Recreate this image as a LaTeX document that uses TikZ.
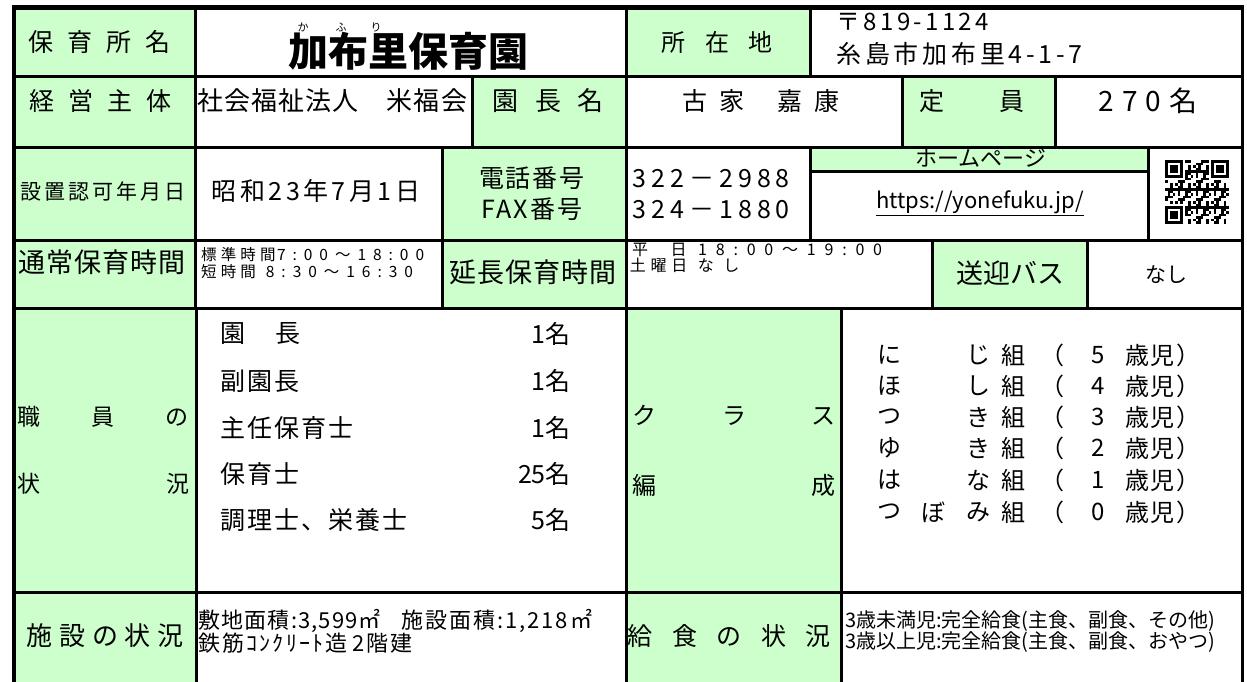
\documentclass[tikz,border=0pt]{standalone}
\usepackage{fontspec}
\setmainfont{Noto Sans CJK JP}
\definecolor{hdrgreen}{RGB}{204,255,204}
\newcommand\fz[2]{\fontsize{#1}{#2}\selectfont}
\newcommand\tight{\lineskiplimit=-20pt\relax}
\newcommand\spc[2]{\kern-\dimexpr #1\fontdimen6\font/200\relax
  {\addfontfeatures{LetterSpace=#1}#2}\kern-\dimexpr #1\fontdimen6\font/200\relax}

\begin{document}
\begin{tikzpicture}
    [x=1pt,y=-1pt,
     hdr/.style={draw,fill=hdrgreen,line width=3pt},
     val/.style={draw,fill=white,line width=3pt},
     txt/.style={inner sep=0pt}]
    \useasboundingbox (0,0) rectangle (1247,682);
    \clip (0,0) rectangle (1247,682);
    \fill[white] (0,0) rectangle (1247,682);

    % cells
    \foreach \xa/\ya/\xb/\yb in {195/7/626/77, 810/7/1242/77,
        195/77/472/147, 626/77/902/147, 1055/77/1242/147,
        195/147/442/240, 626/147/810/240, 810/171/1148/240, 1148/147/1242/240,
        195/240/442/308, 626/240/932/308, 1087/240/1242/308,
        196/308/626/592, 841/308/1242/592,
        196/592/626/700, 841/592/1242/700}
      \draw[val] (\xa,\ya) rectangle (\xb,\yb);
    \foreach \xa/\ya/\xb/\yb in {14/7/195/77, 626/7/810/77,
        14/77/195/147, 472/77/626/147, 902/77/1055/147,
        14/147/195/240, 442/147/626/240, 810/147/1148/171,
        14/240/195/308, 442/240/626/308, 932/240/1087/308,
        14/308/196/592, 626/308/841/592,
        14/592/196/700, 626/592/841/700}
      \draw[hdr] (\xa,\ya) rectangle (\xb,\yb);
    \draw[line width=4.5pt] (14,700) -- (14,7.5) -- (1242,7.5);
    \draw[line width=3pt] (1242,7.5) -- (1242,700);

    % row 1
    \node[txt,font=\fz{25}{30}] (namelbl) at (99,42) {\spc{56}{保育所名}};
    \node[txt,font=\fz{40}{44}\bfseries] (name) at (408,51) {加布里保育園};
    \foreach \r/\x in {か/303, ふ/341, り/376}
      \node[txt,font=\fz{11}{12}] (ruby\x) at (\x,27) {\r};
    \node[txt,font=\fz{24}{30}] (addrlbl) at (717,42) {\spc{83}{所在地}};
    \node[txt,anchor=west,font=\fz{24}{30}] (zip) at (838,22) {\spc{14}{〒819-1124}};
    \node[txt,anchor=west,font=\fz{25}{30}] (addr) at (838,54) {\spc{15}{糸島市加布里4-1-7}};

    % row 2
    \node[txt,font=\fz{25}{30}] (ownerlbl) at (100,101) {\spc{56}{経営主体}};
    \node[txt,anchor=west,font=\fz{26}{30}] (owner) at (198,101) {\spc{4}{社会福祉法人　米福会}};
    \node[txt,font=\fz{26}{30}] (headlbl) at (548,101) {\spc{62}{園長名}};
    \node[txt,anchor=west,font=\fz{25}{30}] (head) at (682,101) {古\hspace{12pt}家\hspace{33pt}嘉\hspace{12pt}康};
    \node[txt,anchor=west,font=\fz{25}{30}] (caplbl) at (919,101) {定\hspace{55pt}員};
    \node[txt,font=\fz{28}{30}] (cap) at (1148,101) {\spc{28}{270名}};

    % row 3
    \node[txt,font=\fz{21}{25}] (datelbl) at (103,191) {\spc{14}{設置認可年月日}};
    \node[txt,font=\fz{25}{30}] (date) at (316,191) {\spc{14}{昭和23年7月1日}};
    \node[txt,align=center,font=\fz{25}{31}] (tellbl) at (532,194) {\spc{8}{電話番号}\\\spc{8}{FAX番号}};
    \node[txt,anchor=west,align=left,font=\fz{25}{31}] (tel) at (635,194)
      {\spc{20}{322－2988}\\\spc{20}{324－1880}};
    \node[txt,font=\fz{22}{24}] (weblbl) at (981,158) {ホームページ};
    \node[txt,font=\fz{22}{26}] (web) at (980,203) {\underline{https://yonefuku.jp/}};
    \begin{scope}[shift={(1165,160)},x=2.56pt,y=-2.56pt]
      \foreach \i in {0,...,24} {
        \foreach \j in {0,...,24} {
          \pgfmathtruncatemacro\qb{mod(\i*\i*7+\j*\j*3+\i*\j*5+\i+11*\j,7)<3}
          \pgfmathtruncatemacro\qf{(\i<8)*(\j<8)+(\i>16)*(\j<8)+(\i<8)*(\j>16)}
          \ifnum\qb=1 \ifnum\qf=0 \fill (\i,\j) rectangle +(1,1); \fi\fi
        }
      }
      \foreach \fx/\fy in {0/0, 18/0, 0/18} {
        \fill (\fx,\fy) rectangle +(7,7);
        \fill[white] (\fx+1,\fy+1) rectangle +(5,5);
        \fill (\fx+2,\fy+2) rectangle +(3,3);
      }
    \end{scope}

    % row 4
    \node[txt,font=\fz{27}{30}] (hourslbl) at (102,262) {\spc{4}{通常保育時間}};
    \node[txt,anchor=west,align=left,font=\fz{15.5}{16.5}\tight] (hours) at (203,263)
      {\spc{27}{標準時間}\hspace{.45em}\spc{45}{7:00～18:00}\\\spc{27}{短時間}\hspace{1em}\spc{45}{8:30～16:30}};
    \node[txt,font=\fz{27}{30}] (extlbl) at (533,272) {\spc{4}{延長保育時間}};
    \node[txt,anchor=west,align=left,font=\fz{16}{16.5}\tight] (ext) at (632,258)
      {平\hspace{1.4em}日\hspace{1em}\spc{55}{18:00～19:00}\\\spc{30}{土曜日}\hspace{1.1em}\spc{60}{なし}};
    \node[txt,font=\fz{27}{30}] (buslbl) at (1010,273) {送迎バス};
    \node[txt,font=\fz{21}{24}] (bus) at (1166,275) {なし};

    % row 5
    \node[txt,font=\fz{23}{28}] (stafflbl) at (103,417) {\hbox to 172pt{職\hfill 員\hfill の}};
    \node[txt,font=\fz{23}{28}] (stafflbl2) at (103,484) {\hbox to 172pt{状\hfill 況}};
    \foreach \n/\c/\y in {園\hspace{1.2em}長/1名/334, 副園長/1名/381, 主任保育士/1名/428,
                          保育士/25名/474, 調理士、栄養士/5名/520} {
      \node[txt,anchor=west,font=\fz{25}{30}] (staff\y) at (221,\y) {\spc{8}{\n}};
      \node[txt,anchor=east,font=\fz{25}{30}] (num\y) at (571,\y) {\c};
    }
    \node[txt,font=\fz{24}{28}] (classlbl) at (734,415) {\hbox to 203pt{ク\hfill ラ\hfill ス}};
    \node[txt,font=\fz{24}{28}] (classlbl2) at (734,485) {\hbox to 203pt{編\hfill 成}};
    \foreach \a/\c/\d/\y in {に/じ/5/355, ほ/し/4/386, つ/き/3/417, ゆ/き/2/448, は/な/1/480, つ/み/0/512} {
      \node[txt,anchor=west,font=\fz{24}{28}] (cla\y) at (877,\y) {\a};
      \node[txt,anchor=west,font=\fz{24}{28}] (clc\y) at (966,\y) {\c};
      \node[txt,anchor=west,font=\fz{24}{28}] (clk\y) at (1001,\y) {組};
      \node[txt,anchor=west,font=\fz{24}{28}] (clp\y) at (1040,\y) {（};
      \node[txt,anchor=west,font=\fz{24}{28}] (cld\y) at (1091,\y) {\d};
      \node[txt,anchor=west,font=\fz{24}{28}] (cly\y) at (1126,\y) {\spc{6}{歳児）}};
    }
    \node[txt,anchor=west,font=\fz{24}{28}] (clb512) at (921,512) {ぼ};

    % row 6
    \node[txt,font=\fz{26}{30}] (sitelbl) at (105,636) {\spc{25}{施設の状況}};
    \node[txt,anchor=west,align=left,font=\fz{22}{23}] (site) at (199,631)
      {\spc{5}{敷地面積:3,599㎡}\hspace{1em}\spc{9}{施設面積:1,218㎡}\\\spc{10}{鉄筋ｺﾝｸﾘｰﾄ造}\hspace{.3em}\spc{10}{2階建}};
    \node[txt,font=\fz{25}{30}] (meallbl) at (729,636) {\spc{78}{給食の状況}};
    \node[txt,anchor=west,align=left,font=\fz{20}{21}] (meal) at (845,632)
      {3歳未満児:完全給食(主食、副食、その他)\\3歳以上児:完全給食(主食、副食、おやつ)};
\end{tikzpicture}
\end{document}
